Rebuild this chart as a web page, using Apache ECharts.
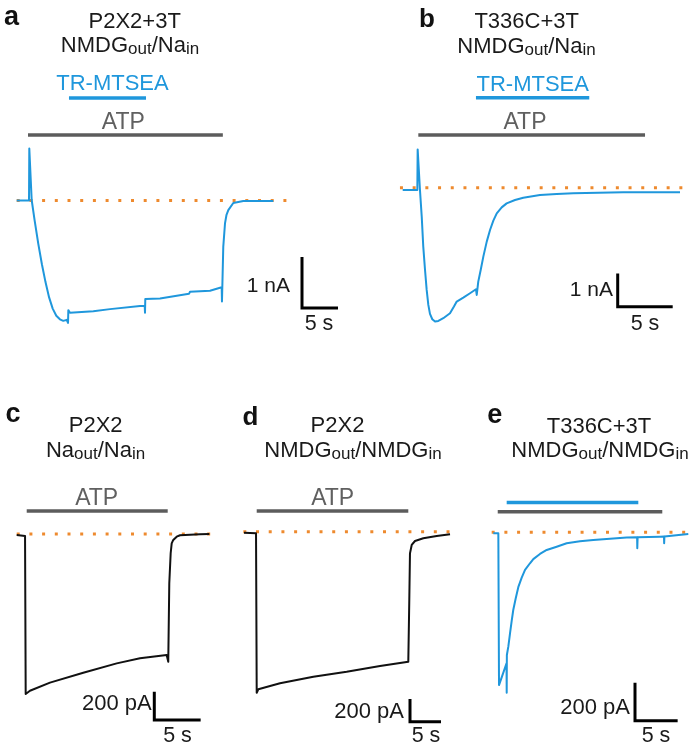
<!DOCTYPE html>
<html><head><meta charset="utf-8">
<script src="https://cdn.jsdelivr.net/npm/echarts@6/dist/echarts.min.js"></script>
<style>html,body{margin:0;padding:0;background:#fff}#c{width:693px;height:750px}</style>
</head><body><div id="c"></div>
<script>
// ---------- DATA (time in s, current in nA for a/b and pA for c/d/e) ----------
const traceA = [[0,0],[1.71,0],[1.75,1.02],[2.08,0.01],[2.5,-0.4],[3.0,-0.85],[3.5,-1.25],[4.0,-1.6],[4.5,-1.9],[5.0,-2.12],[5.5,-2.26],[6.0,-2.33],[6.47,-2.36],[6.94,-2.34],[7.13,-2.40],[7.17,-2.15],[7.40,-2.20],[10.64,-2.17],[12.96,-2.13],[17.13,-2.07],[17.78,-2.07],[17.82,-2.20],[17.86,-1.93],[19.90,-1.92],[23.93,-1.83],[24.07,-1.79],[26.85,-1.77],[28.47,-1.70],[28.51,-1.98],[28.69,-0.91],[28.93,-0.45],[29.14,-0.28],[29.39,-0.19],[30.08,-0.05],[31.47,-0.01],[35.64,-0.01]];
const traceB = [[0,-0.07],[1.33,-0.07],[1.36,1.15],[1.57,-0.07],[1.73,-0.87],[1.87,-1.77],[2.03,-2.47],[2.18,-3.07],[2.33,-3.52],[2.48,-3.79],[2.69,-3.95],[2.94,-4.02],[3.24,-4.00],[3.69,-3.92],[4.30,-3.77],[4.66,-3.57],[4.91,-3.42],[5.51,-3.30],[6.12,-3.17],[6.66,-3.05],[6.73,-3.22],[6.87,-2.82],[7.09,-2.47],[7.33,-2.07],[7.64,-1.62],[7.94,-1.27],[8.24,-0.99],[8.55,-0.77],[9.0,-0.59],[9.45,-0.47],[10.21,-0.37],[10.96,-0.30],[12.48,-0.22],[14.0,-0.19],[15.51,-0.17],[20.05,-0.14],[25.21,-0.14]];
const traceC = [[0,-7],[0.90,-14],[0.97,-1129],[1.43,-1106],[3.59,-1049],[7.18,-979],[10.79,-913],[13.30,-877],[16.18,-854],[16.32,-854],[16.35,-901],[16.46,-348],[16.61,-136],[16.72,-66],[16.89,-42],[17.26,-19],[17.62,-9],[19.77,-2],[20.78,0]];
const traceD = [[0,-9],[1.94,-14],[2.05,-1421],[2.31,-1391],[5.81,-1338],[11.18,-1280],[16.56,-1236],[21.94,-1185],[26.50,-1147],[26.61,-1159],[26.66,-603],[26.77,-191],[27.05,-117],[27.58,-82],[28.92,-58],[31.08,-38],[33.23,-23]];
const traceE = [[0,-5],[0.59,-5],[0.67,-804],[1.55,-690],[1.57,-844],[1.59,-646],[1.76,-602],[1.96,-532],[2.16,-465],[2.34,-409],[2.63,-347],[2.93,-289],[3.33,-239],[3.72,-198],[4.30,-163],[4.69,-141],[5.47,-114],[6.26,-93],[7.43,-76],[8.60,-58],[10.16,-47],[11.72,-41],[13.68,-34],[15.64,-28],[16.86,-26],[16.88,-84],[16.92,-26],[19.54,-23],[20.01,-22],[20.03,-58],[20.06,-22],[22.86,-9]];

// application windows [on, off] in s
const atpA = [1.57, 28.63], tsA = [7.26, 17.96];
const atpB = [1.42, 22.03], tsB = [6.66, 16.96];
const atpC = [1.08, 16.29];
const atpD = [2.05, 26.50];
const atpE = [0.52, 19.81], tsE = [1.57, 17.0];
// zero-current reference (dotted) extents in s
const zeroA = [0, 37.96], zeroB = [-0.25, 25.5], zeroC = [0, 21.0], zeroD = [-0.11, 33.2], zeroE = [-0.19, 23.06];
// scale bars [time, current]
const scaleA = [5, 1], scaleB = [5, 1], scaleC = [5, 200], scaleD = [5, 200], scaleE = [5, 200];
const scaleLabels = [['1 nA','5 s'],['1 nA','5 s'],['200 pA','5 s'],['200 pA','5 s'],['200 pA','5 s']];

// ---------- LAYOUT ----------
const BLUE = '#1f97dc', GRAY = '#5c5c5c', ORANGE = '#ee8a2e', BLACK = '#111';
const FF = '"Liberation Sans", Arial, Helvetica, sans-serif';
const panels = [
  {trace: traceA, color: BLUE, atp: atpA, ts: tsA, zero: zeroA, scale: scaleA,
   o: [16.7, 200.5], sx: 7.2, sy: 51, box: [5, 60, 340, 280], atpY: 135, tsY: 98, sc: [302, 308]},
  {trace: traceB, color: BLUE, atp: atpB, ts: tsB, zero: zeroB, scale: scaleB,
   o: [402.7, 187.7], sx: 11, sy: 33.3, box: [360, 60, 330, 280], atpY: 135, tsY: 97.7, sc: [617.7, 306.7]},
  {trace: traceC, color: BLACK, atp: atpC, ts: null, zero: zeroC, scale: scaleC,
   o: [16.7, 534], sx: 9.27, sy: 0.1417, box: [5, 490, 220, 250], atpY: 511, sc: [154.3, 720]},
  {trace: traceD, color: BLACK, atp: atpD, ts: null, zero: zeroD, scale: scaleD,
   o: [244, 531.7], sx: 6.2, sy: 0.1133, box: [232, 490, 225, 250], atpY: 511, sc: [410, 721.7]},
  {trace: traceE, color: BLUE, atp: atpE, ts: tsE, zero: zeroE, scale: scaleE,
   o: [493.3, 532.3], sx: 8.53, sy: 0.19, box: [462, 490, 230, 250], atpY: 511.7, tsY: 502.5, sc: [635, 720.7]}
];

const grids = [], xAxes = [], yAxes = [], series = [];
panels.forEach((p, i) => {
  const [l, t, w, h] = p.box;
  const X = px => (px - p.o[0]) / p.sx;
  const Y = py => (p.o[1] - py) / p.sy;
  grids.push({left: l, top: t, width: w, height: h, containLabel: false});
  xAxes.push({type: 'value', gridIndex: i, min: X(l), max: X(l + w), show: false});
  yAxes.push({type: 'value', gridIndex: i, min: Y(t + h), max: Y(t), show: false});
  const base = {type: 'line', xAxisIndex: i, yAxisIndex: i, symbol: 'none', silent: true, animation: false, clip: false};
  series.push(Object.assign({}, base, {data: [[p.zero[0], 0], [p.zero[1], 0]], z: 2,
    lineStyle: {color: ORANGE, width: 3, type: [3, 9.7], cap: 'butt'}}));
  series.push(Object.assign({}, base, {data: p.trace, z: 3,
    lineStyle: {color: p.color, width: 2, join: 'round'}}));
  series.push(Object.assign({}, base, {data: [[p.atp[0], Y(p.atpY)], [p.atp[1], Y(p.atpY)]], z: 3,
    lineStyle: {color: GRAY, width: 3.5, cap: 'butt'}}));
  if (p.ts) series.push(Object.assign({}, base, {data: [[p.ts[0], Y(p.tsY)], [p.ts[1], Y(p.tsY)]], z: 3,
    lineStyle: {color: BLUE, width: 3.5, cap: 'butt'}}));
  const cx = X(p.sc[0]), cy = Y(p.sc[1]);
  series.push(Object.assign({}, base, {data: [[cx, cy + p.scale[1]], [cx, cy], [cx + p.scale[0], cy]], z: 3,
    lineStyle: {color: '#000', width: 3, cap: 'butt', join: 'miter'}}));
});

// ---------- TEXT ----------
const g = [];
function txt(x, y, text, o) {
  o = o || {};
  g.push({type: 'text', x: x, y: y, silent: true, style: {
    text: text, fontSize: o.size || 22, fontFamily: FF, fontWeight: o.bold ? 'bold' : 'normal',
    fill: o.color || '#1a1a1a', align: o.align || 'center', verticalAlign: 'middle', rich: o.rich}});
}
const subRich = {m: {fontSize: 22, lineHeight: 24, fontFamily: FF, fill: '#1a1a1a'},
                 s: {fontSize: 17, lineHeight: 16, fontFamily: FF, fill: '#1a1a1a', verticalAlign: 'bottom'}};
// panel letters
txt(4, 17.6, 'a', {bold: true, size: 27, align: 'left', color: '#111'});
txt(419, 19.6, 'b', {bold: true, size: 26, align: 'left', color: '#111'});
txt(5.5, 414.3, 'c', {bold: true, size: 27, align: 'left', color: '#111'});
txt(242.5, 417.9, 'd', {bold: true, size: 26, align: 'left', color: '#111'});
txt(487.3, 416, 'e', {bold: true, size: 27, align: 'left', color: '#111'});
// titles
txt(134.7, 22, 'P2X2+3T');
txt(130, 45.8, '{m|NMDG}{s|out}{m|/Na}{s|in}', {rich: subRich});
txt(526.7, 22, 'T336C+3T');
txt(526.5, 46.5, '{m|NMDG}{s|out}{m|/Na}{s|in}', {rich: subRich});
txt(95.7, 426, 'P2X2');
txt(95.5, 450.5, '{m|Na}{s|out}{m|/Na}{s|in}', {rich: subRich});
txt(337.5, 426, 'P2X2');
txt(353, 450.5, '{m|NMDG}{s|out}{m|/NMDG}{s|in}', {rich: subRich});
txt(599, 427, 'T336C+3T');
txt(600, 451, '{m|NMDG}{s|out}{m|/NMDG}{s|in}', {rich: subRich});
// application labels
txt(112.5, 84.3, 'TR-MTSEA', {color: BLUE, size: 22});
txt(532.7, 84.5, 'TR-MTSEA', {color: BLUE, size: 22});
txt(123.3, 122.5, 'ATP', {color: '#606060', size: 23});
txt(525, 122.5, 'ATP', {color: '#606060', size: 23});
txt(96.7, 499, 'ATP', {color: '#606060', size: 23});
txt(332.7, 499, 'ATP', {color: '#606060', size: 23});
// scale labels
const scalePos = [[290, 286, 319, 324.4, 21], [613, 290, 645, 324.4, 21], [151.7, 704, 177.5, 736, 22], [404, 712, 426, 736, 22], [630, 708, 656, 736, 22]];
scalePos.forEach((s, i) => {
  txt(s[0], s[1], scaleLabels[i][0], {align: 'right', size: s[4]});
  txt(s[2], s[3], scaleLabels[i][1], {size: 21.5});
});

const chart = echarts.init(document.getElementById('c'), null, {renderer: 'canvas'});
chart.setOption({animation: false, backgroundColor: '#fff', grid: grids, xAxis: xAxes, yAxis: yAxes, series: series, graphic: g});
</script></body></html>
